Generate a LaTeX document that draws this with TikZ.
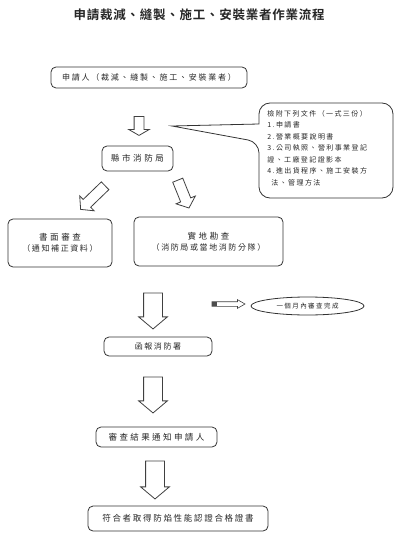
\documentclass[tikz,border=0pt]{standalone}
\usepackage{fontspec}
\setmainfont{Noto Sans CJK TC}[BoldFont={Noto Sans CJK TC Bold}]
\usetikzlibrary{
  shapes.arrows, % For block arrows
  shapes.geometric % For the ellipse
}

% Schriftgröße mit Sperrung
\newcommand\spaced[3]{\fontsize{#1}{#2}\selectfont\addfontfeatures{LetterSpace=#3}}

\begin{document}
\begin{tikzpicture}[
      x=1pt, y=-1pt, % Pixel-like units, y downwards
      line width=0.8pt, % Default line thickness
      box/.style={draw=black!80, rounded corners=5pt, inner sep=0pt, align=center, text=black!85},
      note/.style={draw=black!80, ellipse, inner sep=0pt, text=black!85},
      blockarrow/.style={single arrow, draw=black!75, inner xsep=0pt, minimum width=0pt},
      downarrow/.style={blockarrow, rotate=-90, inner ysep=9pt, single arrow head extend=5pt,
        single arrow tip angle=100, minimum height=36pt},
      callout/.style={draw=black!80},
    ]

    % Rahmen
    \useasboundingbox (0,0) rectangle (400,537);

    % Titel
    \node[text=black!85, font=\spaced{12.5}{14}{6}\bfseries] (title) at (199,15)
      {申請裁減、縫製、施工、安裝業者作業流程};

    % Kästen
    \node[box, minimum width=196pt, minimum height=21pt, font=\spaced{8}{11}{22}] (apply) at (149,77.5)
      {申請人（裁減、縫製、施工、安裝業者）};
    \node[box, minimum width=71pt, minimum height=25pt, font=\spaced{8.5}{11}{30}] (bureau) at (137.5,158.5)
      {縣市消防局};
    \node[box, minimum width=104pt, minimum height=48pt, font=\spaced{8}{12}{20}] (paper) at (60,243)
      {\spaced{8.5}{12}{30}書面審查\\[-1pt]（通知補正資料）};
    \node[box, minimum width=149pt, minimum height=49pt, font=\spaced{8}{12}{20}] (site) at (208.5,241.5)
      {\spaced{8.5}{12}{30}實地勘查\\[-1pt]（消防局或當地消防分隊）};
    \node[box, minimum width=108pt, minimum height=19pt, font=\spaced{8}{11}{20}] (report) at (158,346.5)
      {函報消防署};
    \node[box, minimum width=121pt, minimum height=20pt, font=\spaced{8.5}{11}{28}] (notify) at (156.5,437)
      {審查結果通知申請人};
    \node[box, minimum width=180pt, minimum height=25pt, font=\spaced{8.5}{11}{20}] (cert) at (178,518.5)
      {符合者取得防焰性能認證合格證書};
    \node[note, minimum width=113pt, minimum height=18pt, font=\spaced{6.5}{9}{22}] (month) at (307.5,306)
      {一個月內審查完成};

    % Sprechblase mit Unterlagen
    \node[anchor=north west, align=left, inner sep=0pt, text=black!85, font=\spaced{7}{11.5}{20}] (docs) at (267,110)
      {檢附下列文件（一式三份）\\
       1.申請書\\
       2.營業概要說明書\\
       3.公司執照、營利事業登記\\
       證、工廠登記證影本\\
       4.進出貨程序、施工安裝方\\
       \hspace{4pt}法、管理方法};
    \coordinate (tip) at (172,126);
    \draw[callout] (tip) -- (259,124) [rounded corners=11pt] -- (259,103) -- (393,103)
      -- (393,198) -- (259,198) -- (259,142) [sharp corners] -- cycle;

    % Blockpfeile
    \node[blockarrow, rotate=-90, inner ysep=4.5pt, single arrow head extend=5.5pt,
      single arrow tip angle=120, minimum height=19pt] (a1) at (139,124.5) {};
    \node[blockarrow, rotate=224, inner ysep=5pt, single arrow head extend=5pt,
      single arrow tip angle=100, minimum height=34pt] (a2) at (94.5,196) {};
    \node[blockarrow, rotate=-68, inner ysep=5pt, single arrow head extend=5pt,
      single arrow tip angle=100, minimum height=30pt] (a3) at (182.5,192) {};
    \node[downarrow] (a4) at (153,307) {};
    \node[downarrow] (a5) at (153,391) {};
    \node[downarrow, minimum height=38pt] (a6) at (155,476) {};

    % Kleiner Pfeil zur Frist
    \node[blockarrow, inner ysep=2pt, single arrow head extend=2pt, single arrow tip angle=60,
      minimum height=33pt, line width=0.6pt] (a7) at (226.5,304) {};
    \fill[black!70] (a7.tail) ++(0,-2) rectangle ++(5,4);
  \end{tikzpicture}
\end{document}
